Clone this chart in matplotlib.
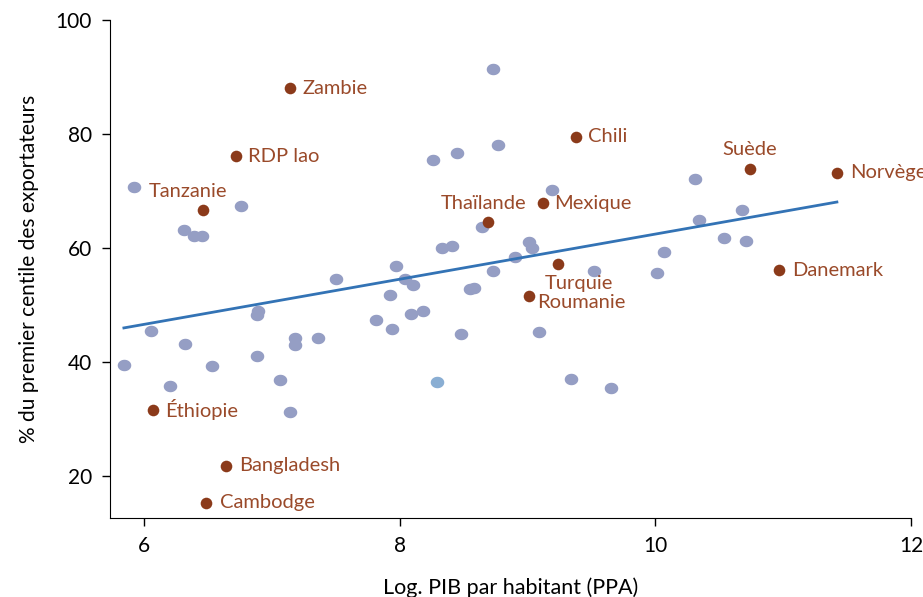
import numpy as np
import matplotlib
matplotlib.use("Agg")
import matplotlib.pyplot as plt
from matplotlib.path import Path

# other countries (grey dots)
other_x = [5.92, 6.76, 6.31, 6.39, 6.45, 6.05, 5.84, 6.32, 6.20, 6.53, 6.88, 6.89, 6.88,
           7.06, 7.14, 7.18, 7.18, 7.36, 7.50, 7.81, 7.92, 7.94, 7.97, 8.04, 8.10, 8.09,
           8.18, 8.26, 8.33, 8.41, 8.45, 8.48, 8.55, 8.58, 8.64, 8.73, 8.73, 8.77, 8.90,
           9.01, 9.03, 9.09, 9.19, 9.34, 9.52, 9.65, 10.01, 10.07, 10.31, 10.34, 10.54,
           10.68, 10.71]
other_y = [70.7, 67.4, 63.2, 62.1, 62.1, 45.4, 39.5, 43.2, 35.8, 39.3, 41.1, 48.9, 48.2,
           36.8, 31.2, 44.2, 43.0, 44.2, 54.6, 47.4, 51.8, 45.8, 56.8, 54.6, 53.5, 48.4,
           48.9, 75.4, 60.0, 60.4, 76.7, 44.9, 52.8, 53.0, 63.7, 91.4, 56.0, 78.1, 58.4,
           61.1, 60.0, 45.3, 70.2, 37.0, 56.0, 35.4, 55.6, 59.3, 72.1, 64.9, 61.8,
           66.7, 61.2]

# one lighter dot
light_x = [8.29]
light_y = [36.5]

# highlighted countries
names = ["Zambie", "RDP lao", "Tanzanie", "Chili", "Suède", "Norvège", "Thaïlande",
         "Mexique", "Turquie", "Roumanie", "Danemark", "Éthiopie", "Bangladesh", "Cambodge"]
hl_x = [7.14, 6.72, 6.46, 9.375, 10.74, 11.42, 8.69, 9.12, 9.24, 9.01, 10.97, 6.07, 6.64, 6.48]
hl_y = [88.1, 76.1, 66.7, 79.6, 73.9, 73.2, 64.6, 67.9, 57.2, 51.6, 56.1, 31.6, 21.8, 15.3]

# trend line end points
fit_x = [5.84, 11.42]
fit_y = [46.0, 68.1]

# label offsets in pixels (dx, dy, ha)
offsets = {
    "Zambie": (12, 0, "left"), "RDP lao": (12, 0, "left"), "Tanzanie": (-54, 19, "left"),
    "Chili": (12, 0, "left"), "Suède": (0, 19, "center"), "Norvège": (13, 0, "left"),
    "Thaïlande": (-4, 18, "center"), "Mexique": (11, 0, "left"), "Turquie": (-14, -19, "left"),
    "Roumanie": (8, -6, "left"), "Danemark": (13, 0, "left"), "Éthiopie": (12, 0, "left"),
    "Bangladesh": (13, 0, "left"), "Cambodge": (14, 0, "left"),
}

plt.rcParams['font.family'] = ['Lato', 'DejaVu Sans']

fig = plt.figure(figsize=(9.23, 5.97), dpi=100)
ax = fig.add_axes([0.119, 0.132, 0.868, 0.834])

# slightly wide ellipse marker for grey dots
t = np.linspace(0, 2 * np.pi, 60)
ellipse = Path(np.column_stack([1.18 * np.cos(t), np.sin(t)]), closed=True)

ax.scatter(other_x, other_y, s=95, marker=ellipse, color="#959ec4", linewidths=0, zorder=2)
ax.scatter(light_x, light_y, s=95, marker=ellipse, color="#8aaed3", linewidths=0, zorder=2)
ax.plot(fit_x, fit_y, color="#3373b5", lw=2, zorder=3)
ax.scatter(hl_x, hl_y, s=70, color="#8b3a1a", linewidths=0, zorder=4)

for n, x, y in zip(names, hl_x, hl_y):
    dx, dy, ha = offsets[n]
    ax.annotate(n, (x, y), xytext=(dx, dy), textcoords="offset pixels",
                ha=ha, va="center", fontsize=14.5, color="#9a4a2a", zorder=5,
                annotation_clip=False)

ax.set_xlim(5.73, 12)
ax.set_ylim(12.6, 100)
ax.set_xticks([6, 8, 10, 12])
ax.set_yticks([20, 40, 60, 80, 100])
for s in ["top", "right"]:
    ax.spines[s].set_visible(False)
ax.tick_params(direction="out", length=6, width=1, labelsize=15, pad=7)
ax.set_xlabel("Log. PIB par habitant (PPA)", fontsize=15.5, labelpad=15)
ax.set_ylabel("% du premier centile des exportateurs", fontsize=15, labelpad=12)

fig.savefig("out.png", dpi=100)
